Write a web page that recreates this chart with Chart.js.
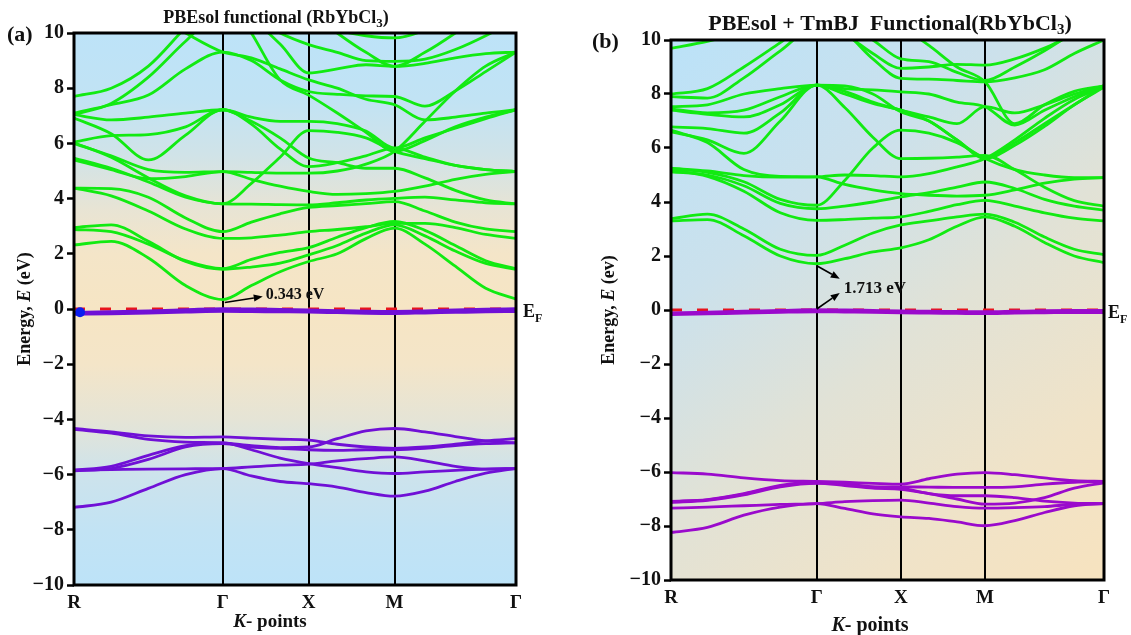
<!DOCTYPE html>
<html>
<head>
<meta charset="utf-8">
<script src="https://cdn.jsdelivr.net/npm/chart.js@4.4.1/dist/chart.umd.min.js"></script>
<style>
  html, body { margin: 0; padding: 0; background: #ffffff; width: 1131px; height: 635px; overflow: hidden; }
  .panel { position: absolute; top: 0; }
  #wrapA { left: 0; width: 565px; height: 635px; }
  #wrapB { left: 565px; width: 566px; height: 635px; }
</style>
</head>
<body>
<div id="wrapA" class="panel"><canvas id="chartA" width="565" height="635"></canvas></div>
<div id="wrapB" class="panel"><canvas id="chartB" width="566" height="635"></canvas></div>
<script>
// k-path R -> Γ -> X -> M -> Γ (path length in units of 2π/a)
const kPath = [0, 0.433, 0.866, 1.299, 1.732, 2.065, 2.399, 2.732, 3.065, 3.399, 3.732, 4.086, 4.439, 4.793, 5.146];
const kTickPos = [0, 1.732, 2.732, 3.732, 5.146];
const kTickLabels = ['R', 'Γ', 'X', 'M', 'Γ'];

// band gaps at Γ (eV)
const GAP_A = 0.343;
const GAP_B = 1.713;

// ---- PBEsol: conduction bands (eV) ----
const condA = [
  [2.32, 2.45, 1.85, 0.85, GAP_A, 0.85, 1.35, 1.72, 2.00, 2.55, 2.93, 2.35, 1.55, 0.75, 0.36],
  [2.95, 3.05, 2.45, 1.72, 1.44, 1.52, 1.66, 1.96, 2.30, 2.75, 3.05, 2.65, 2.10, 1.65, 1.44],
  [2.88, 2.80, 2.35, 1.75, 1.46, 1.80, 2.05, 2.22, 2.60, 2.95, 3.17, 2.85, 2.30, 1.75, 1.46],
  [4.38, 4.10, 3.55, 2.90, 2.56, 2.58, 2.68, 2.80, 2.88, 2.98, 3.10, 3.10, 2.95, 2.70, 2.56],
  [4.38, 4.36, 4.05, 3.30, 2.80, 3.15, 3.45, 3.68, 3.75, 3.82, 3.89, 3.55, 3.15, 2.90, 2.80],
  [5.47, 5.10, 4.60, 4.05, 3.81, 3.80, 3.78, 3.77, 3.85, 3.95, 4.01, 4.05, 3.95, 3.85, 3.81],
  [6.00, 5.55, 5.05, 4.95, 4.98, 4.70, 4.45, 4.26, 4.15, 4.18, 4.26, 4.45, 4.70, 4.88, 4.98],
  [6.02, 5.50, 4.75, 4.10, 3.81, 4.55, 5.50, 6.46, 6.40, 6.20, 5.71, 5.45, 5.20, 5.05, 4.98],
  [5.40, 5.05, 4.72, 4.80, 4.98, 4.95, 4.92, 4.92, 5.00, 5.25, 5.71, 6.80, 7.90, 8.80, 9.31],
  [6.05, 6.28, 6.32, 6.60, 7.22, 6.95, 6.80, 6.80, 6.72, 6.45, 5.83, 6.20, 6.55, 6.90, 7.22],
  [6.92, 6.35, 5.40, 6.30, 7.22, 6.80, 6.20, 5.47, 5.30, 5.10, 5.10, 4.75, 4.30, 3.95, 3.81],
  [7.04, 6.85, 6.95, 7.10, 7.22, 6.70, 5.80, 5.16, 5.30, 5.55, 5.83, 5.50, 5.20, 5.05, 4.98],
  [7.10, 7.40, 7.75, 8.70, 9.31, 9.00, 8.30, 7.88, 7.78, 7.72, 7.70, 7.35, 7.90, 8.60, 9.31],
  [7.70, 8.00, 8.80, 10.2, 11.5, 10.0, 8.30, 7.75, 7.10, 6.40, 5.71, 6.10, 6.60, 6.95, 7.22],
  [7.05, 7.45, 8.40, 9.70, 10.8, 10.5, 9.60, 8.55, 8.70, 8.85, 8.79, 8.90, 9.10, 9.25, 9.31],
  [10.8, 11.2, 11.5, 11.5, 11.0, 10.6, 10.0, 9.58, 9.30, 9.00, 8.97, 9.05, 9.40, 9.90, 10.5],
  [12.0, 12.0, 12.0, 11.5, 11.0, 10.8, 10.6, 10.4, 10.1, 9.90, 9.82, 10.1, 10.6, 11.2, 11.5],
  [11.5, 11.2, 10.8, 10.0, 9.31, 9.10, 8.70, 8.30, 8.00, 7.60, 7.40, 6.85, 6.95, 7.10, 7.22],
  [12.0, 12.0, 12.0, 12.0, 12.0, 11.5, 11.0, 10.8, 10.0, 9.30, 8.79, 9.30, 10.0, 10.8, 11.5]
];
// ---- PBEsol: valence bands (eV) ----
const valTopA = [
  [-0.14, -0.11, -0.08, -0.04, 0.00, -0.01, -0.03, -0.05, -0.07, -0.09, -0.10, -0.08, -0.05, -0.02, 0.00],
  [-0.18, -0.16, -0.13, -0.10, -0.07, -0.08, -0.09, -0.10, -0.12, -0.14, -0.15, -0.13, -0.11, -0.09, -0.08]
];
const valA = [
  [-4.33, -4.45, -4.60, -4.65, -4.63, -4.68, -4.72, -4.75, -4.90, -5.00, -5.05, -5.00, -4.90, -4.78, -4.70],
  [-4.36, -4.50, -4.72, -4.82, -4.85, -4.95, -5.02, -5.00, -4.70, -4.42, -4.33, -4.45, -4.62, -4.78, -4.85],
  [-5.84, -5.70, -5.30, -4.95, -4.85, -5.10, -5.40, -5.60, -5.75, -5.90, -5.96, -5.90, -5.85, -5.80, -5.78],
  [-5.86, -5.78, -5.45, -5.00, -4.88, -5.00, -5.05, -5.10, -5.12, -5.10, -5.10, -5.05, -4.95, -4.88, -4.85],
  [-5.84, -5.82, -5.80, -5.79, -5.78, -5.72, -5.66, -5.62, -5.50, -5.42, -5.36, -5.50, -5.70, -5.80, -5.78],
  [-7.19, -7.00, -6.50, -6.00, -5.78, -6.05, -6.25, -6.33, -6.45, -6.65, -6.78, -6.60, -6.25, -5.95, -5.78]
];
const vbmMarkA = { x: 0.07, y: -0.12 };

// ---- PBEsol + TB-mBJ: conduction bands (eV) ----
const condB = [
  [3.30, 3.35, 2.75, 2.00, GAP_B, 1.90, 2.15, 2.30, 2.60, 3.10, 3.45, 3.10, 2.50, 2.00, 1.75],
  [3.38, 3.55, 3.00, 2.25, 2.02, 2.40, 2.85, 3.15, 3.30, 3.45, 3.55, 3.25, 2.70, 2.25, 2.05],
  [5.18, 4.95, 4.40, 3.60, 3.32, 3.35, 3.40, 3.45, 3.65, 3.90, 4.06, 3.85, 3.60, 3.40, 3.30],
  [5.12, 5.00, 4.60, 3.95, 3.75, 3.85, 4.00, 4.19, 4.35, 4.55, 4.74, 4.50, 4.10, 3.85, 3.70],
  [5.22, 5.10, 4.75, 4.10, 3.88, 4.80, 6.00, 6.66, 6.55, 6.20, 5.61, 5.20, 5.00, 4.90, 4.90],
  [5.25, 5.15, 4.98, 4.92, 4.93, 5.00, 4.98, 4.93, 5.05, 5.30, 5.61, 6.30, 7.10, 7.80, 8.25],
  [6.60, 6.30, 5.80, 7.00, 8.33, 8.20, 8.15, 8.08, 8.00, 7.70, 7.53, 6.85, 7.40, 7.90, 8.30],
  [6.66, 6.20, 5.20, 4.95, 4.93, 4.65, 4.45, 4.31, 4.25, 4.22, 4.25, 4.45, 4.70, 4.85, 4.90],
  [6.78, 6.72, 6.55, 7.30, 8.33, 7.50, 6.40, 5.61, 5.62, 5.66, 5.73, 5.20, 4.55, 4.05, 3.85],
  [7.40, 7.25, 7.15, 7.60, 8.33, 8.00, 7.65, 7.40, 7.00, 6.30, 5.61, 6.10, 6.80, 7.60, 8.25],
  [7.53, 7.60, 8.00, 8.20, 8.33, 8.30, 8.00, 7.34, 7.00, 6.30, 5.65, 6.20, 6.90, 7.60, 8.30],
  [7.90, 7.85, 8.60, 9.60, 10.5, 10.2, 9.50, 8.95, 9.00, 9.10, 9.07, 9.30, 9.70, 10.2, 10.5],
  [8.00, 8.20, 9.00, 9.90, 10.8, 10.3, 9.30, 8.58, 8.55, 8.50, 8.45, 8.60, 8.90, 9.50, 10.0],
  [9.69, 9.95, 10.3, 10.8, 11.0, 10.6, 10.0, 9.30, 9.20, 8.80, 8.50, 9.00, 9.60, 10.3, 11.0],
  [7.45, 7.30, 7.40, 7.90, 8.33, 8.10, 7.70, 7.40, 7.15, 6.90, 7.53, 7.30, 7.60, 8.00, 8.30],
  [12.0, 12.0, 12.0, 12.0, 12.0, 11.5, 11.0, 10.5, 9.80, 9.00, 8.45, 6.90, 7.60, 8.10, 8.30]
];
// ---- PBEsol + TB-mBJ: valence bands (eV) ----
const valTopB = [
  [-0.12, -0.09, -0.06, -0.03, 0.00, -0.01, -0.03, -0.05, -0.06, -0.07, -0.08, -0.06, -0.04, -0.03, -0.03],
  [-0.16, -0.13, -0.10, -0.07, -0.05, -0.06, -0.07, -0.09, -0.10, -0.11, -0.12, -0.10, -0.09, -0.08, -0.08]
];
const valB = [
  [-6.02, -6.08, -6.22, -6.32, -6.35, -6.38, -6.42, -6.45, -6.25, -6.08, -6.02, -6.10, -6.22, -6.32, -6.35],
  [-7.09, -7.02, -6.80, -6.50, -6.38, -6.45, -6.55, -6.55, -6.56, -6.57, -6.57, -6.55, -6.45, -6.38, -6.35],
  [-7.13, -7.05, -6.85, -6.55, -6.42, -6.50, -6.60, -6.64, -6.80, -7.00, -7.19, -7.15, -6.95, -6.60, -6.40],
  [-7.34, -7.30, -7.25, -7.20, -7.17, -7.10, -7.06, -7.04, -7.15, -7.28, -7.34, -7.32, -7.28, -7.20, -7.17],
  [-8.24, -8.05, -7.60, -7.30, -7.17, -7.35, -7.55, -7.66, -7.72, -7.85, -7.99, -7.80, -7.50, -7.25, -7.17],
  [-7.10, -7.03, -6.82, -6.52, -6.40, -6.45, -6.55, -6.60, -6.80, -6.88, -6.88, -6.95, -7.08, -7.15, -7.17]
];

const SERIF = '"Liberation Serif", "Times New Roman", Times, serif';
const GREEN = '#12ea12';

function bandDatasets(bands, color, width, order) {
  return bands.map(b => ({
    data: kPath.map((k, i) => ({ x: k, y: b[i] })),
    borderColor: color,
    borderWidth: width,
    pointRadius: 0,
    fill: false,
    cubicInterpolationMode: 'monotone',
    order: order
  }));
}

function fermiDataset(color) {
  return {
    data: [{ x: kPath[0], y: 0 }, { x: kPath[kPath.length - 1], y: 0 }],
    borderColor: color,
    borderWidth: 3,
    borderDash: [11, 15],
    pointRadius: 0,
    fill: false,
    order: 5
  };
}

// draw a sequence of text runs (for italics / subscripts) starting at x
function drawRuns(ctx, runs, x, y, align) {
  let total = 0;
  runs.forEach(r => { ctx.font = r.font; total += ctx.measureText(r.text).width; });
  let cx = align === 'center' ? x - total / 2 : x;
  ctx.textAlign = 'left';
  runs.forEach(r => {
    ctx.font = r.font;
    ctx.fillText(r.text, cx, y + (r.dy || 0));
    cx += ctx.measureText(r.text).width;
  });
}

function arrow(ctx, x1, y1, x2, y2) {
  const ang = Math.atan2(y2 - y1, x2 - x1);
  const head = 9, half = 3.6;
  const bx = x2 - head * Math.cos(ang), by = y2 - head * Math.sin(ang);
  ctx.beginPath();
  ctx.moveTo(x1, y1);
  ctx.lineTo(bx, by);
  ctx.stroke();
  ctx.beginPath();
  ctx.moveTo(x2, y2);
  ctx.lineTo(bx - half * Math.sin(ang), by + half * Math.cos(ang));
  ctx.lineTo(bx + half * Math.sin(ang), by - half * Math.cos(ang));
  ctx.closePath();
  ctx.fill();
}

// panel decoration: background, frame, titles and labels
const panelDeco = {
  id: 'panelDeco',
  beforeDraw(chart, args, opts) {
    const { ctx, chartArea: a } = chart;
    let g;
    if (opts.bg === 'vertical') {
      g = ctx.createLinearGradient(0, a.top, 0, a.bottom);
      g.addColorStop(0.00, '#bde3f8');
      g.addColorStop(0.12, '#c1e3f4');
      g.addColorStop(0.22, '#d0e3e8');
      g.addColorStop(0.32, '#e8e4d4');
      g.addColorStop(0.40, '#f4e5c8');
      g.addColorStop(0.50, '#f6e5c4');
      g.addColorStop(0.60, '#f4e5c8');
      g.addColorStop(0.70, '#e5e4d6');
      g.addColorStop(0.80, '#cde3ec');
      g.addColorStop(0.90, '#c2e3f4');
      g.addColorStop(1.00, '#bde3f8');
    } else {
      g = ctx.createLinearGradient(a.left, a.top, a.right, a.bottom);
      g.addColorStop(0.00, '#bbe2f8');
      g.addColorStop(0.30, '#cbe1ec');
      g.addColorStop(0.55, '#e1e2d6');
      g.addColorStop(0.80, '#f0e3c8');
      g.addColorStop(1.00, '#f7e3bf');
    }
    ctx.save();
    ctx.fillStyle = g;
    ctx.fillRect(a.left, a.top, a.right - a.left, a.bottom - a.top);
    ctx.restore();
  },
  afterDraw(chart, args, opts) {
    const { ctx, chartArea: a, scales } = chart;
    const xs = scales.x, ys = scales.y;
    ctx.save();
    // frame
    ctx.strokeStyle = '#000';
    ctx.lineWidth = 3;
    ctx.strokeRect(a.left, a.top, a.right - a.left, a.bottom - a.top);

    ctx.fillStyle = '#111';
    ctx.textBaseline = 'alphabetic';
    // panel tag
    ctx.font = 'bold 22px ' + SERIF;
    ctx.textAlign = 'left';
    ctx.fillText(opts.tag, opts.tagX, opts.tagY);
    // title
    const tf = 'bold ' + opts.titleSize + 'px ' + SERIF;
    const sf = 'bold ' + Math.round(opts.titleSize * 0.7) + 'px ' + SERIF;
    drawRuns(ctx, [
      { text: opts.title + '(RbYbCl', font: tf },
      { text: '3', font: sf, dy: 4 },
      { text: ')', font: tf }
    ], opts.titleX, opts.titleY, 'center');
    // x axis title
    const xs2 = opts.xTitleSize;
    drawRuns(ctx, [
      { text: 'K', font: 'italic bold ' + xs2 + 'px ' + SERIF },
      { text: '- points', font: 'bold ' + xs2 + 'px ' + SERIF }
    ], opts.xTitleX, opts.xTitleY, 'center');
    // y axis title
    ctx.save();
    ctx.translate(opts.yTitleX, (a.top + a.bottom) / 2);
    ctx.rotate(-Math.PI / 2);
    const yf = 'bold 18px ' + SERIF;
    drawRuns(ctx, [
      { text: 'Energy, ', font: yf },
      { text: 'E', font: 'italic bold 18px ' + SERIF },
      { text: ' ' + opts.yUnit, font: yf }
    ], 0, 6, 'center');
    ctx.restore();
    // Fermi level label
    const y0 = ys.getPixelForValue(0);
    drawRuns(ctx, [
      { text: 'E', font: 'bold 18px ' + SERIF },
      { text: 'F', font: 'bold 12px ' + SERIF, dy: 5 }
    ], a.right + opts.efDx, y0 + 8, 'left');

    // gap annotation
    ctx.strokeStyle = '#000';
    ctx.fillStyle = '#000';
    ctx.lineWidth = 1.6;
    const gx = xs.getPixelForValue(kTickPos[1]);
    const gy = ys.getPixelForValue(opts.gap);
    const label = opts.gap.toFixed(3) + ' eV';
    ctx.font = 'bold ' + opts.gapFont + 'px ' + SERIF;
    if (opts.twoArrows) {
      arrow(ctx, gx, gy + 2, gx + 23, gy + 15);
      arrow(ctx, gx, y0 - 1, gx + 23, y0 - 17);
      ctx.fillStyle = '#111';
      ctx.fillText(label, gx + 27, (gy + y0) / 2 + 6);
    } else {
      arrow(ctx, gx + 2, gy + 3, gx + 40, gy - 3);
      ctx.fillStyle = '#111';
      ctx.fillText(label, gx + 43, gy - 1);
    }
    ctx.restore();
  }
};

function makeChart(canvasId, cfg) {
  const datasets = []
    .concat(bandDatasets(cfg.valTop, cfg.purple, 3.6, 0))
    .concat([fermiDataset('#e8141c')])
    .concat(bandDatasets(cfg.cond, GREEN, 2.8, 2))
    .concat(bandDatasets(cfg.val, cfg.purple, 2.8, 2));
  if (cfg.mark) {
    datasets.push({
      data: [cfg.mark], showLine: false, pointRadius: 5, pointHoverRadius: 5,
      backgroundColor: '#0b1ef0', borderWidth: 0, order: -1
    });
  }
  return new Chart(document.getElementById(canvasId), {
    type: 'line',
    data: { datasets },
    options: {
      responsive: false,
      animation: false,
      devicePixelRatio: 1,
      layout: { padding: { left: 0, right: cfg.padRight, top: cfg.padTop, bottom: 0 } },
      plugins: {
        legend: { display: false },
        tooltip: { enabled: false },
        panelDeco: cfg.deco
      },
      scales: {
        x: {
          type: 'linear',
          min: kPath[0],
          max: kPath[kPath.length - 1],
          z: 1,
          afterBuildTicks: axis => { axis.ticks = kTickPos.map(v => ({ value: v })); },
          afterFit: s => { s.height = cfg.xAxisH; },
          ticks: {
            autoSkip: false,
            maxRotation: 0,
            padding: 7,
            color: '#111',
            font: { family: SERIF, size: 19, weight: 'bold' },
            callback: (v, i) => kTickLabels[i]
          },
          grid: { drawOnChartArea: true, drawTicks: false, color: '#000', lineWidth: 2 },
          border: { display: false }
        },
        y: {
          min: -10,
          max: 10,
          afterFit: s => { s.width = cfg.yAxisW; },
          ticks: {
            stepSize: 2,
            padding: 3,
            color: '#111',
            font: { family: SERIF, size: 20, weight: 'bold' },
            callback: v => (v < 0 ? '\u2212' + Math.abs(v) : String(v))
          },
          grid: { drawOnChartArea: false, drawTicks: true, tickLength: 7, tickWidth: 2.5, tickColor: '#000' },
          border: { display: false }
        }
      }
    },
    plugins: [panelDeco]
  });
}

makeChart('chartA', {
  cond: condA, val: valA, valTop: valTopA, purple: '#7010d6', mark: vbmMarkA,
  padRight: 49, padTop: 33, yAxisW: 74, xAxisH: 50,
  deco: {
    bg: 'vertical', tag: '(a)', tagX: 7, tagY: 41,
    title: 'PBEsol functional ', titleSize: 18, titleX: 276, titleY: 23,
    xTitleX: 270, xTitleY: 627, xTitleSize: 19, yTitleX: 24, yUnit: '(eV)',
    efDx: 7, gap: GAP_A, gapFont: 16, twoArrows: false
  }
});

makeChart('chartB', {
  cond: condB, val: valB, valTop: valTopB, purple: '#9a0acc', mark: null,
  padRight: 27, padTop: 40, yAxisW: 106, xAxisH: 55,
  deco: {
    bg: 'diagonal', tag: '(b)', tagX: 27, tagY: 48,
    title: 'PBEsol + TmBJ  Functional', titleSize: 22, titleX: 325, titleY: 30,
    xTitleX: 305, xTitleY: 631, xTitleSize: 20, yTitleX: 43, yUnit: '(ev)',
    efDx: 4, gap: GAP_B, gapFont: 17, twoArrows: true
  }
});
</script>
</body>
</html>
